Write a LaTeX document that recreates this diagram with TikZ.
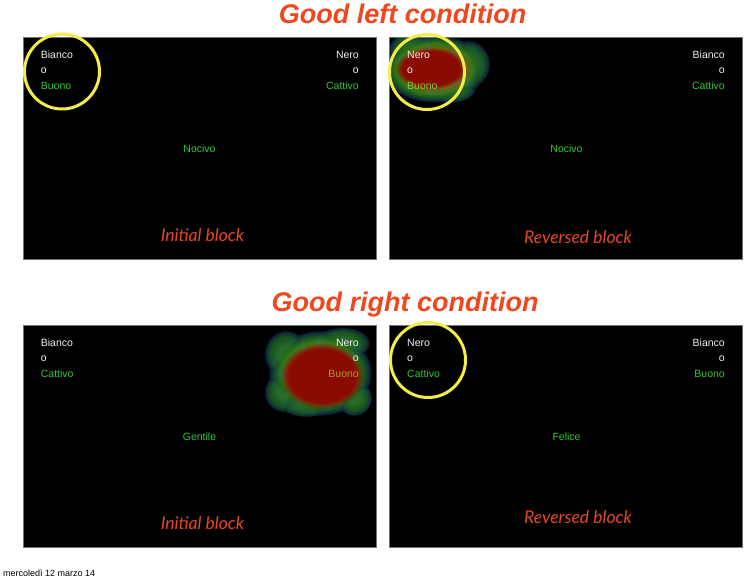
\documentclass[tikz,border=0pt]{standalone}
\usepackage{fontspec}
\setmainfont{Liberation Sans}
\newfontfamily\blockfont{Lato}
\usetikzlibrary{fadings}
\definecolor{titlered}{RGB}{240,72,30}
\definecolor{blockred}{RGB}{232,72,32}
\definecolor{txtgreen}{RGB}{52,200,52}
\definecolor{txtwhite}{RGB}{240,240,240}
\definecolor{ringyellow}{RGB}{246,236,70}
\definecolor{hred}{RGB}{138,12,0}
\definecolor{holive}{RGB}{110,95,0}
\definecolor{hgreen}{RGB}{50,120,20}
\definecolor{hdkgreen}{RGB}{22,82,32}
\definecolor{hblue}{RGB}{15,38,60}
\definecolor{hbump}{RGB}{40,105,25}
\definecolor{olivetxt}{RGB}{175,150,45}
\definecolor{lgreentxt}{RGB}{125,205,70}
\pgfdeclareradialshading{heat}{\pgfpoint{0bp}{0bp}}{color(0bp)=(hred); color(11bp)=(hred); color(15bp)=(holive); color(18.5bp)=(hgreen); color(21.5bp)=(hdkgreen); color(23.8bp)=(hblue); color(25bp)=(black); color(50bp)=(black)}
\pgfdeclareradialshading{bump}{\pgfpoint{0bp}{0bp}}{color(0bp)=(hbump); color(8bp)=(hbump); color(18bp)=(hdkgreen); color(23bp)=(hblue); color(25bp)=(black); color(50bp)=(black)}
\begin{document}
\begin{tikzpicture}[x=1pt,y=-1pt,
  panel/.style={fill=black,draw=black!55,line width=0.6pt,minimum width=353pt,minimum height=222pt,inner sep=0pt},
  title/.style={text=titlered,font=\fontsize{27}{30}\selectfont\bfseries\itshape,inner sep=0pt,anchor=base},
  blocklbl/.style={text=blockred,font=\blockfont\itshape\fontsize{17.5}{20}\selectfont,inner sep=0pt,anchor=base},
  lbl/.style={font=\fontsize{10.5}{12}\selectfont,inner sep=0pt},
  wlbl/.style={lbl,text=txtwhite},
  glbl/.style={lbl,text=txtgreen},
  ring/.style={circle,draw=ringyellow,line width=3pt,minimum size=75pt,inner sep=0pt},
  heatblob/.style={shading=heat},
  bumpblob/.style={shading=bump},
  heatcore/.style={fill=hred,path fading=circle with fuzzy edge 20 percent}
]
\useasboundingbox (0,0) rectangle (747,579);
\fill[white] (0,0) rectangle (747,579);

% titles
\node[title] (t1) at (402.5,23) {Good left condition};
\node[title] (t2) at (405,311) {Good right condition};

% panels
\node[panel] (p1) at (199.5,148) {};
\node[panel] (p2) at (565.5,148) {};
\node[panel] (p3) at (199.5,436) {};
\node[panel] (p4) at (565.5,436) {};

% heat maps
\begin{scope}
\clip ([shift={(0.5,0.5)}]p2.north west) rectangle ([shift={(-0.5,-0.5)}]p2.south east);
\begin{scope}[blend mode=lighten]
\shade[bumpblob] (468,64) ellipse [x radius=22, y radius=24];
\shade[bumpblob] (450,88) ellipse [x radius=26, y radius=15];
\shade[bumpblob] (410,50) ellipse [x radius=22, y radius=18];
\shade[heatblob] (434,68.5) ellipse [x radius=52, y radius=34];
\end{scope}
\fill[heatcore] (431,68.5) ellipse [x radius=36, y radius=21];
\end{scope}
\begin{scope}
\clip ([shift={(0.5,0.5)}]p3.north west) rectangle ([shift={(-0.5,-0.5)}]p3.south east);
\begin{scope}[blend mode=lighten]
\shade[bumpblob] (286,354) ellipse [x radius=22, y radius=24];
\shade[bumpblob] (284,392) ellipse [x radius=20, y radius=20];
\shade[bumpblob] (306,402) ellipse [x radius=28, y radius=15];
\shade[bumpblob] (342,343) ellipse [x radius=28, y radius=16];
\shade[bumpblob] (354,398) ellipse [x radius=18, y radius=18];
\shade[heatblob] (320,373) ellipse [x radius=52, y radius=43];
\end{scope}
\fill[heatcore] (322,376) ellipse [x radius=42, y radius=33];
\end{scope}

% panel 1
\node[wlbl,anchor=base west] (a1) at (40.7,58) {Bianco};
\node[wlbl,anchor=base west] (a2) at (40.7,73.5) {o};
\node[glbl,anchor=base west] (a3) at (40.7,89) {Buono};
\node[wlbl,anchor=base east] (a4) at (359,58) {Nero};
\node[wlbl,anchor=base east] (a5) at (359,73.5) {o};
\node[glbl,anchor=base east] (a6) at (359,89) {Cattivo};
\node[glbl,anchor=base] (a7) at (199.5,152) {Nocivo};
\node[blocklbl] (a8) at (202.5,241.5) {Initial block};

% panel 2
\node[wlbl,anchor=base west] (b1) at (407,58) {Nero};
\node[wlbl,anchor=base west] (b2) at (407,73.5) {o};
\node[lbl,text=lgreentxt,anchor=base west] (b3) at (407,89) {Buono};
\node[wlbl,anchor=base east] (b4) at (725,58) {Bianco};
\node[wlbl,anchor=base east] (b5) at (725,73.5) {o};
\node[glbl,anchor=base east] (b6) at (725,89) {Cattivo};
\node[glbl,anchor=base] (b7) at (566.5,152) {Nocivo};
\node[blocklbl] (b8) at (578,243) {Reversed block};

% panel 3
\node[wlbl,anchor=base west] (c1) at (40.7,346) {Bianco};
\node[wlbl,anchor=base west] (c2) at (40.7,361.5) {o};
\node[glbl,anchor=base west] (c3) at (40.7,377) {Cattivo};
\node[wlbl,anchor=base east] (c4) at (359,346) {Nero};
\node[wlbl,anchor=base east] (c5) at (359,361.5) {o};
\node[lbl,text=olivetxt,anchor=base east] (c6) at (359,377) {Buono};
\node[glbl,anchor=base] (c7) at (199.5,440) {Gentile};
\node[blocklbl] (c8) at (202.5,529.5) {Initial block};

% panel 4
\node[wlbl,anchor=base west] (d1) at (407,346) {Nero};
\node[wlbl,anchor=base west] (d2) at (407,361.5) {o};
\node[glbl,anchor=base west] (d3) at (407,377) {Cattivo};
\node[wlbl,anchor=base east] (d4) at (725,346) {Bianco};
\node[wlbl,anchor=base east] (d5) at (725,361.5) {o};
\node[glbl,anchor=base east] (d6) at (725,377) {Buono};
\node[glbl,anchor=base] (d7) at (566.5,440) {Felice};
\node[blocklbl] (d8) at (578,523.5) {Reversed block};

% rings
\node[ring] (r1) at (62,71.5) {};
\node[ring] (r2) at (427,72) {};
\node[ring] (r3) at (428,360) {};

% footer
\node[anchor=base west,font=\fontsize{9}{10}\selectfont,inner sep=0pt] (date) at (3,576) {mercoledì 12 marzo 14};
\end{tikzpicture}
\end{document}
